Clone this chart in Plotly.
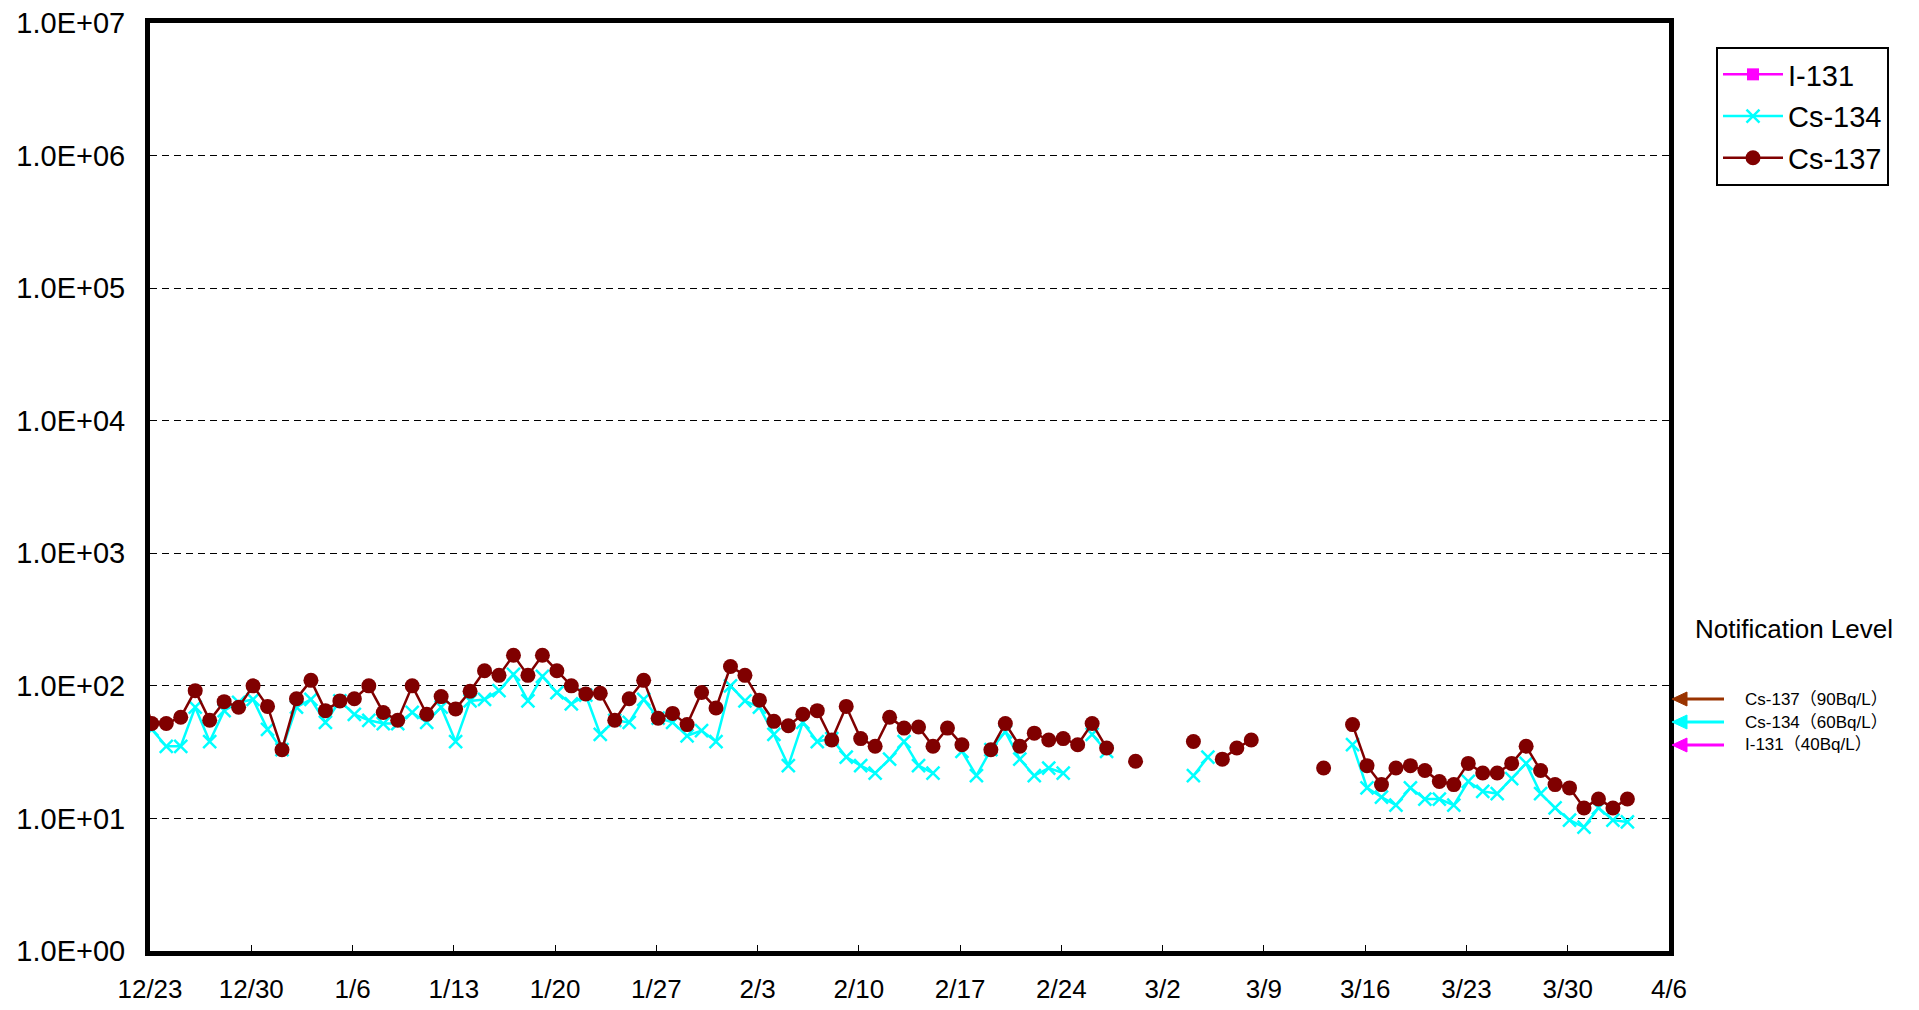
import plotly.graph_objects as go
import pandas as pd

# ---- data (Bq/L), daily from 2011-12-22 ----
start_date = "2011-12-22"
cs137 = [120, 52, 52, 58, 92, 55, 76, 69, 100, 70, 33, 80, 110, 65, 77, 80, 100, 63, 55, 100,
         61, 83, 67, 91, 130, 120, 170, 120, 170, 130, 100, 87, 88, 55, 80, 110, 57, 62, 51, 89,
         68, 140, 120, 78, 54, 50, 61, 65, 39, 70, 40, 35, 58, 48, 49, 35, 48, 36, None, 33,
         52, 35, 44, 39, 40, 36, 52, 34, None, 27, None, None, None, 38, None, 28, 34, 39, None, None,
         None, None, 24, None, 51, 25, 18, 24, 25, 23, 19, 18, 26, 22, 22, 26, 35, 23, 18, 17,
         12, 14, 12, 14]
cs134 = [110, 47, 35, 35, 69, 38, 65, 75, 79, 47, 33, 69, 79, 53, 77, 61, 55, 52, 52, 63,
         53, 69, 38, 77, 79, 92, 122, 77, 118, 89, 73, 85, 43, 55, 53, 79, 57, 53, 42, 46,
         38, 100, 77, 69, 43, 25, 53, 38, 40, 29, 25, 22, 28, 38, 25, 22, None, 32, 21, 33,
         45, 28, 21, 24, 22, None, 43, 32, None, None, None, None, None, 21, 29, None, None, None, None, None,
         None, None, None, None, 36, 17, 14.5, 12.6, 17, 14, 14, 12.6, 19, 16, 15.4, 20, 26, 15.4, 12, 9.7,
         8.6, 12, 9.7, 9.4]
i131 = [None]

ytick_vals = [1, 10, 100, 1000, 10000, 100000, 1000000, 10000000]
ytick_labels = ["1.0E+00", "1.0E+01", "1.0E+02", "1.0E+03", "1.0E+04", "1.0E+05", "1.0E+06", "1.0E+07"]
x_range = ["2011-12-23", "2012-04-06"]
levels = [("Cs-137（90Bq/L）", "#993300"), ("Cs-134（60Bq/L）", "#00FFFF"), ("I-131（40Bq/L）", "#FF00FF")]

# sampling time of day (~3 h) shifts each point slightly right of the date tick
dates = pd.date_range(start_date, periods=len(cs137), freq="D") + pd.Timedelta(hours=3)

FONT = "Liberation Sans, Arial, Noto Sans CJK JP, sans-serif"

fig = go.Figure()
fig.add_trace(go.Scatter(x=[None], y=i131, name="I-131", mode="lines+markers", legendgroup="a",
                         line=dict(color="#FF00FF", width=2.5),
                         marker=dict(symbol="square", size=12, color="#FF00FF")))
fig.add_trace(go.Scatter(x=dates, y=cs134, name="Cs-134", mode="lines+markers", legendgroup="b",
                         connectgaps=False,
                         line=dict(color="#00FFFF", width=2.5),
                         marker=dict(symbol="x-thin", size=13, color="#00FFFF",
                                     line=dict(color="#00FFFF", width=2.5))))
fig.add_trace(go.Scatter(x=dates, y=cs137, name="Cs-137", mode="lines+markers", legendgroup="c",
                         connectgaps=False,
                         line=dict(color="#800000", width=2.5),
                         marker=dict(symbol="circle", size=15, color="#800000")))

W, H = 1919, 1010
L, R, T, B = 150, 250, 23, 59
pw, ph = W - L - R, H - T - B


def px(x):
    return (x - L) / pw


def py(y):
    return (H - B - y) / ph


shapes = []
annotations = []
arrow_y = [699, 722, 745]
for (label, color), yy in zip(levels, arrow_y):
    tip = 1672
    shapes.append(dict(type="line", xref="paper", yref="paper",
                       x0=px(tip + 12), x1=px(1724), y0=py(yy), y1=py(yy),
                       line=dict(color=color, width=3)))
    shapes.append(dict(type="path", xref="paper", yref="paper",
                       path=f"M {px(tip)} {py(yy)} L {px(tip + 15)} {py(yy - 7)} L {px(tip + 15)} {py(yy + 7)} Z",
                       fillcolor=color, line=dict(color=color, width=1)))
    annotations.append(dict(xref="paper", yref="paper", x=px(1743), y=py(yy),
                            xanchor="left", yanchor="middle", showarrow=False, text=label,
                            font=dict(family=FONT, size=17, color="#000")))

annotations.append(dict(xref="paper", yref="paper", x=px(1794), y=py(629),
                        xanchor="center", yanchor="middle", showarrow=False,
                        text="Notification Level", font=dict(family=FONT, size=26, color="#000")))

fig.update_layout(
    width=W, height=H,
    margin=dict(l=L, r=R, t=T, b=B, autoexpand=False),
    paper_bgcolor="white", plot_bgcolor="white",
    font=dict(family=FONT, color="#000"),
    showlegend=True,
    legend=dict(x=px(1716), y=py(47), xanchor="left", yanchor="top",
                bgcolor="white", bordercolor="black", borderwidth=2,
                font=dict(family=FONT, size=29, color="#000"),
                itemwidth=60, tracegroupgap=1),
    shapes=shapes,
    annotations=annotations,
)

fig.update_xaxes(type="date", range=x_range, tick0="2011-12-23", dtick=7 * 86400000,
                 tickformat="%-m/%-d", ticks="inside", ticklen=6, tickwidth=1, tickcolor="#000",
                 showgrid=False, zeroline=False, automargin=False,
                 showline=True, linecolor="#000", linewidth=5, mirror=True,
                 ticklabelstandoff=11,
                 tickfont=dict(family=FONT, size=26, color="#000"))
fig.update_yaxes(type="log", range=[0, 7], tickvals=ytick_vals, ticktext=ytick_labels,
                 ticks="", showgrid=True, gridcolor="#000", gridwidth=1, griddash="7px,5px",
                 zeroline=False, automargin=False,
                 showline=True, linecolor="#000", linewidth=5, mirror=True,
                 ticklabelstandoff=14,
                 tickfont=dict(family=FONT, size=29, color="#000"))

fig.write_html("out.html", config={"displayModeBar": False},
               post_script="document.body.style.margin='0';document.body.style.overflow='hidden';")
